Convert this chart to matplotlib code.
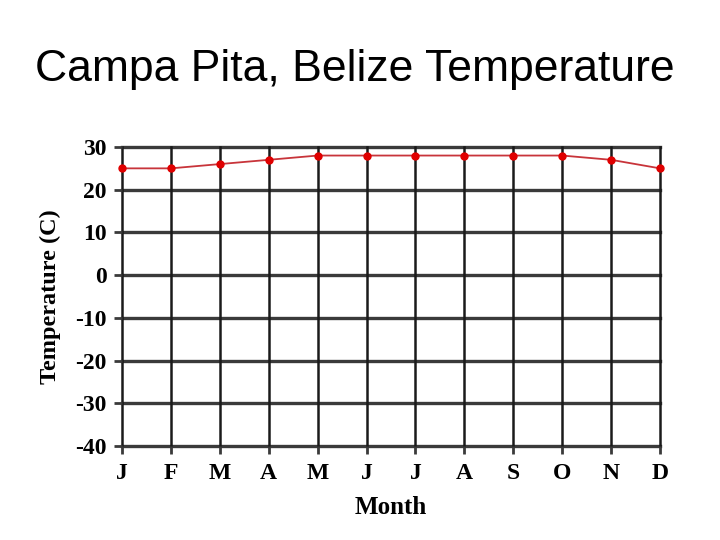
import matplotlib.pyplot as plt
import numpy as np

months = ["J", "F", "M", "A", "M", "J", "J", "A", "S", "O", "N", "D"]
temps = [25, 25, 26, 27, 28, 28, 28, 28, 28, 28, 27, 25]
yticks = [30, 20, 10, 0, -10, -20, -30, -40]

fig = plt.figure(figsize=(7.2, 5.4), dpi=100)
ax = fig.add_axes([122/720, 1-446/540, (660-122)/720, (446-147)/540])

x = np.arange(len(months))
ax.set_xlim(0, 11)
ax.set_ylim(-40, 30)
ax.set_xticks(x)
ax.set_xticklabels(months)
ax.set_yticks(yticks)
ax.set_yticklabels([str(v) for v in yticks])

gridc = "#3a3a3a"
for v in yticks:
    ax.axhline(v, color=gridc, lw=2.4, clip_on=False, zorder=1)
for xi in x:
    ax.axvline(xi, color="#1a1a1a", lw=1.8, clip_on=False, zorder=1)
for s in ax.spines.values():
    s.set_visible(False)

ax.tick_params(axis="both", length=6, width=2, color=gridc)
ax.tick_params(axis="x", pad=6)
ax.tick_params(axis="y", pad=5)
for lab in ax.get_xticklabels() + ax.get_yticklabels():
    lab.set_fontfamily("Liberation Serif")
    lab.set_fontweight("bold")
    lab.set_fontsize(17)

ax.plot(x, temps, color="#c8343a", lw=1.3, marker="o", markersize=5,
        markerfacecolor="#e00000", markeredgecolor="#e00000", clip_on=False, zorder=3)

ax.set_ylabel("Temperature (C)", fontfamily="Liberation Serif", fontweight="bold",
              fontsize=17.5, labelpad=10)
ax.set_xlabel("Month", fontfamily="Liberation Serif", fontweight="bold",
              fontsize=18, labelpad=9)

fig.text(355/720, 1-70/540, "Campa Pita, Belize Temperature", ha="center", va="center",
         fontfamily="Liberation Sans", fontsize=32)

fig.savefig("out.png", dpi=100)
